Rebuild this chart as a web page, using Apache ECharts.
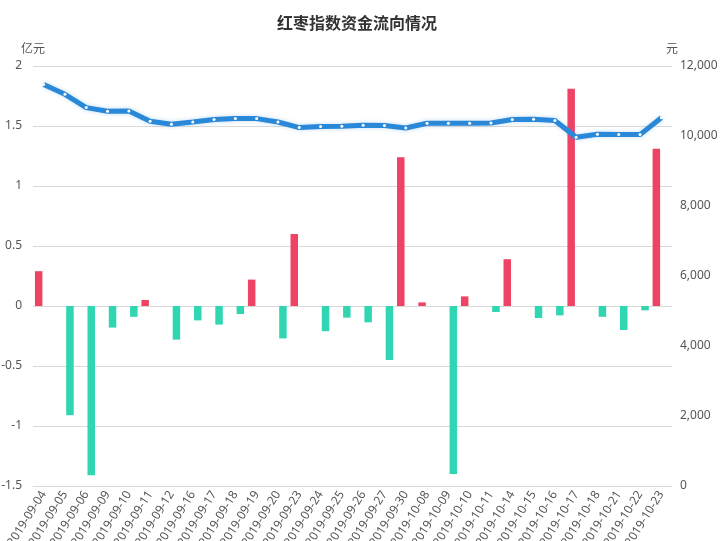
<!DOCTYPE html>
<html>
<head>
<meta charset="utf-8">
<script src="https://cdn.jsdelivr.net/npm/echarts@6/dist/echarts.min.js"></script>
<style>
html,body{margin:0;padding:0;background:#fff;}
#chart{width:720px;height:541px;}
</style>
</head>
<body>
<div id="chart"></div>
<script>
var categories = ['2019-09-04','2019-09-05','2019-09-06','2019-09-09','2019-09-10','2019-09-11','2019-09-12','2019-09-16','2019-09-17','2019-09-18','2019-09-19','2019-09-20','2019-09-23','2019-09-24','2019-09-25','2019-09-26','2019-09-27','2019-09-30','2019-10-08','2019-10-09','2019-10-10','2019-10-11','2019-10-14','2019-10-15','2019-10-16','2019-10-17','2019-10-18','2019-10-21','2019-10-22','2019-10-23'];
var inflow = [0.29,'-','-','-','-',0.05,'-','-','-','-',0.22,'-',0.60,'-','-','-','-',1.24,0.03,'-',0.08,'-',0.39,'-','-',1.81,'-','-','-',1.31];
var outflow = ['-',-0.91,-1.41,-0.18,-0.09,'-',-0.28,-0.12,-0.155,-0.067,'-',-0.27,'-',-0.21,-0.097,-0.136,-0.45,'-','-',-1.40,'-',-0.05,'-',-0.10,-0.078,'-',-0.09,-0.20,-0.036,'-'];
var indexPrice = [11469,11191,10811,10706,10714,10420,10334,10400,10469,10497,10497,10400,10240,10269,10277,10306,10300,10229,10363,10363,10363,10371,10469,10477,10445,9962,10049,10040,10040,10520];
var leftTicks = {min:-1.5, max:2, interval:0.5};
var rightTicks = {min:0, max:12000, interval:2000};

var chart = echarts.init(document.getElementById('chart'));
chart.setOption({
  backgroundColor:'#fff',
  animation:false,
  title:{
    text:'红枣指数资金流向情况',
    left:272, top:10,
    textStyle:{fontFamily:'Noto Sans CJK SC', fontSize:16, fontWeight:'bold', color:'#333'}
  },
  grid:{left:33, right:48, top:66, bottom:55, containLabel:false, outerBoundsMode:'none'},
  xAxis:{
    type:'category',
    data:categories,
    axisLine:{onZero:false, lineStyle:{color:'#d9d9d9'}},
    axisTick:{show:false},
    axisLabel:{rotate:58, interval:0, fontSize:12, color:'#555', margin:6, fontFamily:'Noto Sans'}
  },
  yAxis:[
    {
      type:'value', min:leftTicks.min, max:leftTicks.max, interval:leftTicks.interval,
      name:'亿元', nameGap:12,
      nameTextStyle:{color:'#555', fontSize:12, fontFamily:'Noto Sans CJK SC', align:'center'},
      axisLine:{show:false}, axisTick:{show:false},
      axisLabel:{color:'#555', fontSize:12, margin:11, fontFamily:'Noto Sans'},
      splitLine:{lineStyle:{color:'#d9d9d9'}}
    },
    {
      type:'value', min:rightTicks.min, max:rightTicks.max, interval:rightTicks.interval,
      name:'元', nameGap:12,
      nameTextStyle:{color:'#555', fontSize:12, fontFamily:'Noto Sans CJK SC', align:'center'},
      axisLine:{show:false}, axisTick:{show:false},
      axisLabel:{color:'#555', fontSize:12, margin:8, fontFamily:'Noto Sans',
        formatter:function(v){return v.toLocaleString('en-US');}},
      splitLine:{show:false}
    }
  ],
  series:[
    {
      name:'流入', type:'bar', yAxisIndex:0, data:inflow,
      barWidth:7.5, barGap:'33%',
      itemStyle:{color:'#EF4365'}
    },
    {
      name:'流出', type:'bar', yAxisIndex:0, data:outflow,
      barWidth:7.5, barGap:'33%',
      itemStyle:{color:'#30D5B2'}
    },
    {
      name:'指数', type:'line', yAxisIndex:1, data:indexPrice,
      symbol:'circle', symbolSize:3, showSymbol:true,
      lineStyle:{color:'#2A88D8', width:5, shadowColor:'rgba(42,136,216,0.3)', shadowBlur:4},
      itemStyle:{color:'#ffffff', borderWidth:0},
      z:5
    }
  ]
});
</script>
</body>
</html>
